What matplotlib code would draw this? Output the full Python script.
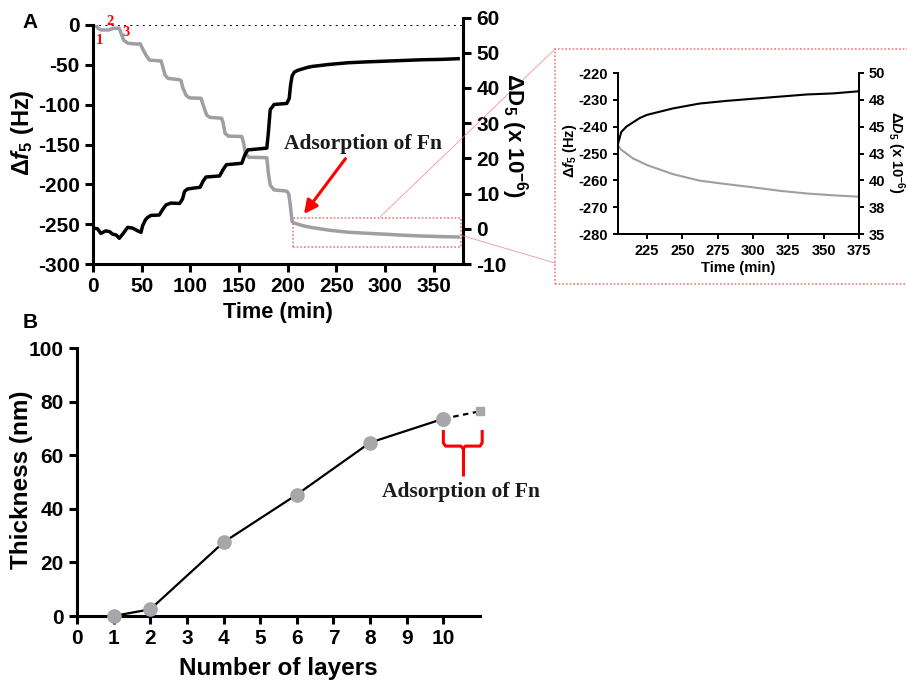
import matplotlib
matplotlib.use("Agg")
import matplotlib.pyplot as plt
from matplotlib.patches import Rectangle
from matplotlib.lines import Line2D

plt.rcParams["font.family"] = "Liberation Sans"
plt.rcParams["font.weight"] = "bold"
plt.rcParams["mathtext.fontset"] = "custom"
plt.rcParams["mathtext.rm"] = "Liberation Sans:bold"
plt.rcParams["mathtext.it"] = "Liberation Sans:italic:bold"
plt.rcParams["mathtext.bf"] = "Liberation Sans:bold"
plt.rcParams["axes.unicode_minus"] = False

# --- panel A: QCM-D trace ---
time_f = [0, 3, 5, 8, 16.7, 19, 21, 27, 28.7, 31.4, 36, 46, 48.5,
          51, 54.5, 58, 68, 70, 71.6, 74, 77, 88.8, 90.5, 92, 95.5, 99, 111,
          113, 116.7, 120, 132, 133.5, 135.6, 139, 152.8, 154.5, 156.5, 160,
          178.5, 180, 182, 186, 199, 201, 202.5, 204.5, 207, 210.4, 215, 225,
          243.4, 262, 281, 300, 319, 338, 357, 375]
df5 = [0, -0.5, -4, -6.2, -6.2, -5, -4.2, -4, -10, -19, -23, -24, -23.5,
       -30, -38, -44, -45, -45, -52, -63, -67, -68.7, -70, -78, -88, -91.5, -92,
       -100, -113, -116, -117, -122, -136, -139.5, -140, -147, -161, -166,
       -166.5, -185, -201, -207, -208.5, -212, -225, -247, -248.7, -250, -251.8,
       -254.3, -257.7, -260.1, -261.4, -262.6, -263.9, -264.9, -265.6, -266.1]

time_d = [0, 4.6, 8, 13, 17, 20, 24, 27, 30.5, 35.6, 40.6, 46, 49.3,
          51, 54, 56, 59.5, 68, 71.6, 75, 80, 89, 92, 94, 97, 110, 113, 116,
          130, 134, 137, 152.8, 156, 159, 178.5, 180, 182, 186, 199, 201.5,
          203, 204.5, 206.8, 210.4, 219.8, 225, 243.4, 262, 281, 300, 319,
          338, 357, 375]
dd5 = [0.2, 0, -1.3, -0.6, -0.8, -1.5, -1.8, -2.7, -1.5, 0.4, 0.2, -0.6, -1.0,
       0.9, 2.6, 3.2, 3.8, 3.9, 5.5, 6.8, 7.3, 7.2, 8.5, 10.6, 11.3, 11.8, 13.5,
       14.7, 15.0, 17.0, 18.2, 18.6, 21.0, 22.4, 22.9, 27, 33.8, 35.3, 35.6,
       37, 41, 43.4, 44.5, 45.0, 45.8, 46.1, 46.7, 47.15, 47.4, 47.6, 47.8,
       48.0, 48.1, 48.3]

time_ticks = [0, 50, 100, 150, 200, 250, 300, 350]
f_ticks = [0, -50, -100, -150, -200, -250, -300]
d_ticks = [60, 50, 40, 30, 20, 10, 0, -10]

inset_time_ticks = [225, 250, 275, 300, 325, 350, 375]
inset_f_ticks = [-220, -230, -240, -250, -260, -270, -280]
inset_d_ticks = [35, 37.5, 40, 42.5, 45, 47.5, 50]
inset_d_labels = ["35", "38", "40", "43", "45", "48", "50"]

# --- panel B: thickness vs layers ---
layers = [1, 2, 4, 6, 8, 10]
thickness = [0, 2.5, 27.5, 45.3, 64.7, 73.6]
layers_fn = [10, 11]
thickness_fn = [73.6, 76.4]
layer_ticks = list(range(0, 11))
thick_ticks = [0, 20, 40, 60, 80, 100]

GREY = "#9e9ea4"
PINK = "#f07c7c"
W, H = 907, 683


def frac(x0, y0, x1, y1):
    # pixel box (left, top, right, bottom) -> axes rect
    return [x0 / W, 1 - y1 / H, (x1 - x0) / W, (y1 - y0) / H]


def style(ax, lw=2.2, size=14, length=6):
    ax.tick_params(width=lw, length=length, labelsize=size, direction="out")
    for lab in ax.get_xticklabels() + ax.get_yticklabels():
        lab.set_fontweight("bold")


fig = plt.figure(figsize=(9.07, 6.83), dpi=100)

# main A
ax = fig.add_axes(frac(93, 25, 463, 264))
ax.plot(time_f, df5, color=GREY, lw=2.5, solid_joinstyle="round")
ax.axhline(0, color="k", ls=(0, (1, 2.2)), lw=1.4)
ax.set_xlim(0, 380)
ax.set_ylim(-300, 0)
ax.set_xticks(time_ticks)
ax.set_yticks(f_ticks)
for s in ["top", "right"]:
    ax.spines[s].set_visible(False)
for s in ["left", "bottom"]:
    ax.spines[s].set_linewidth(2.2)
style(ax, size=15)
ax.set_xlabel("Time (min)", fontsize=15.7, fontweight="bold", labelpad=4)
ax.set_ylabel("Δ$f_5$ (Hz)", fontsize=17, fontweight="bold")
ax.yaxis.set_label_coords(-0.155, 0.55)
ax.add_patch(Rectangle((205, -279), 173, 37, fill=False, ec=PINK,
                       ls=(0, (1, 1.2)), lw=1.2, clip_on=False))
ax.annotate("", xy=(215, -240), xytext=(261, -165),
            arrowprops=dict(arrowstyle="-|>,head_length=0.8,head_width=0.4",
                            color="red", lw=2.2))
ax.text(277, -150, "Adsorption of Fn", family="Liberation Serif",
        fontweight="bold", fontsize=15.5, color="#1a1a1a", ha="center", va="center")
for lab, tx, ty in [("1", 6.5, -20), ("2", 18, 5), ("3", 34, -10)]:
    ax.text(tx, ty, lab, color="red", family="Liberation Serif",
            fontweight="bold", fontsize=10.5, ha="center", va="center", clip_on=False)

# right axis of A (slightly taller, as in the original)
ax2 = fig.add_axes(frac(93, 17.5, 463, 264))
ax2.patch.set_alpha(0)
ax2.plot(time_d, dd5, color="k", lw=2.5, solid_joinstyle="round")
ax2.set_xlim(0, 380)
ax2.set_ylim(-10, 60)
ax2.set_yticks(d_ticks)
ax2.set_xticks([])
for s in ["top", "left", "bottom"]:
    ax2.spines[s].set_visible(False)
ax2.spines["right"].set_linewidth(2.2)
ax2.yaxis.tick_right()
style(ax2, size=15)
fig.text(514 / W, 1 - 136 / H, "ΔD$_5$ (x 10$^{-6}$)", fontsize=16,
         fontweight="bold", rotation=-90, ha="center", va="center")

# inset
axi = fig.add_axes(frac(618, 73, 859, 234))
axi.plot(time_f, df5, color=GREY, lw=1.5)
axi.set_xlim(204.5, 375)
axi.set_ylim(-280, -220)
axi.set_xticks(inset_time_ticks)
axi.set_yticks(inset_f_ticks)
axi.spines["top"].set_visible(False)
for s in ["left", "bottom", "right"]:
    axi.spines[s].set_linewidth(1.4)
style(axi, lw=1.4, size=10.5, length=3.5)
axi.set_xlabel("Time (min)", fontsize=10.7, fontweight="bold", labelpad=2)
axi.set_ylabel("Δ$f_5$ (Hz)", fontsize=10.5, fontweight="bold")
axi.yaxis.set_label_coords(-0.16, 0.515)
axi2 = axi.twinx()
axi2.plot(time_d, dd5, color="k", lw=1.5)
axi2.set_xlim(204.5, 375)
axi2.set_ylim(35, 50)
axi2.set_yticks(inset_d_ticks)
axi2.set_yticklabels(inset_d_labels)
axi2.spines["top"].set_visible(False)
for s in ["left", "bottom", "right"]:
    axi2.spines[s].set_linewidth(1.4)
style(axi2, lw=1.4, size=10.5, length=3.5)
fig.text(896 / W, 1 - 152 / H, "Δ$D_5$ (x 10$^{-6}$)", fontsize=10.5,
         fontweight="bold", rotation=-90, ha="center", va="center")

# zoom box frame and connecting lines
fig.patches.append(Rectangle((555 / W, 1 - 284 / H), 380 / W, 235 / H,
                             transform=fig.transFigure, fill=False, ec=PINK,
                             ls=(0, (1, 1.2)), lw=1.2))
for (xa, ya), (xb, yb) in [((380, 217), (555, 49)), ((460, 235), (555, 263))]:
    fig.add_artist(Line2D([xa / W, xb / W], [1 - ya / H, 1 - yb / H],
                          transform=fig.transFigure, color=PINK, lw=0.6, alpha=0.8))

# panel B
axb = fig.add_axes(frac(77, 348, 480, 616))
axb.plot(layers, thickness, color="k", lw=1.6, marker="o", ms=9.5,
         mfc="#a6a6ab", mec="#a6a6ab", clip_on=False, zorder=3)
axb.plot(layers_fn, thickness_fn, color="k", lw=1.6, ls=(0, (2.5, 2)),
         zorder=2, clip_on=False)
axb.plot(layers_fn[1:], thickness_fn[1:], ls="none", marker="s", ms=5.5,
         mfc="#a6a6ab", mec="#a6a6ab", clip_on=False, zorder=3)
axb.plot(layers[-1:], thickness[-1:], ls="none", marker="o", ms=9.5,
         mfc="#a6a6ab", mec="#a6a6ab", clip_on=False, zorder=4)
axb.set_xlim(0, 11)
axb.set_ylim(0, 100)
axb.set_xticks(layer_ticks)
axb.set_yticks(thick_ticks)
for s in ["top", "right"]:
    axb.spines[s].set_visible(False)
for s in ["left", "bottom"]:
    axb.spines[s].set_linewidth(2.2)
style(axb, size=15)
axb.set_xlabel("Number of layers", fontsize=17.5, fontweight="bold", labelpad=6)
axb.set_ylabel("Thickness (nm)", fontsize=17.5, fontweight="bold")
axb.yaxis.set_label_coords(-0.108, 0.51)
bx = [10.0, 10.0, 10.06, 10.48, 10.54, 10.60, 11.0, 11.06, 11.06]
by = [69.4, 64.6, 63.4, 63.4, 62.4, 63.4, 63.4, 64.6, 69.4]
axb.plot(bx, by, color="red", lw=2.2, clip_on=False, solid_capstyle="butt")
axb.plot([10.54, 10.54], [63.0, 52.4], color="red", lw=2.2, clip_on=False,
         solid_capstyle="butt")
axb.text(10.49, 46.3, "Adsorption of Fn", family="Liberation Serif",
         fontweight="bold", fontsize=15.5, color="#1a1a1a", ha="center", va="center")

fig.text(30 / W, 1 - 22 / H, "A", fontsize=15, fontweight="bold", ha="center", va="center")
fig.text(30 / W, 1 - 323 / H, "B", fontsize=15, fontweight="bold", ha="center", va="center")

fig.savefig("out.png", dpi=100)
